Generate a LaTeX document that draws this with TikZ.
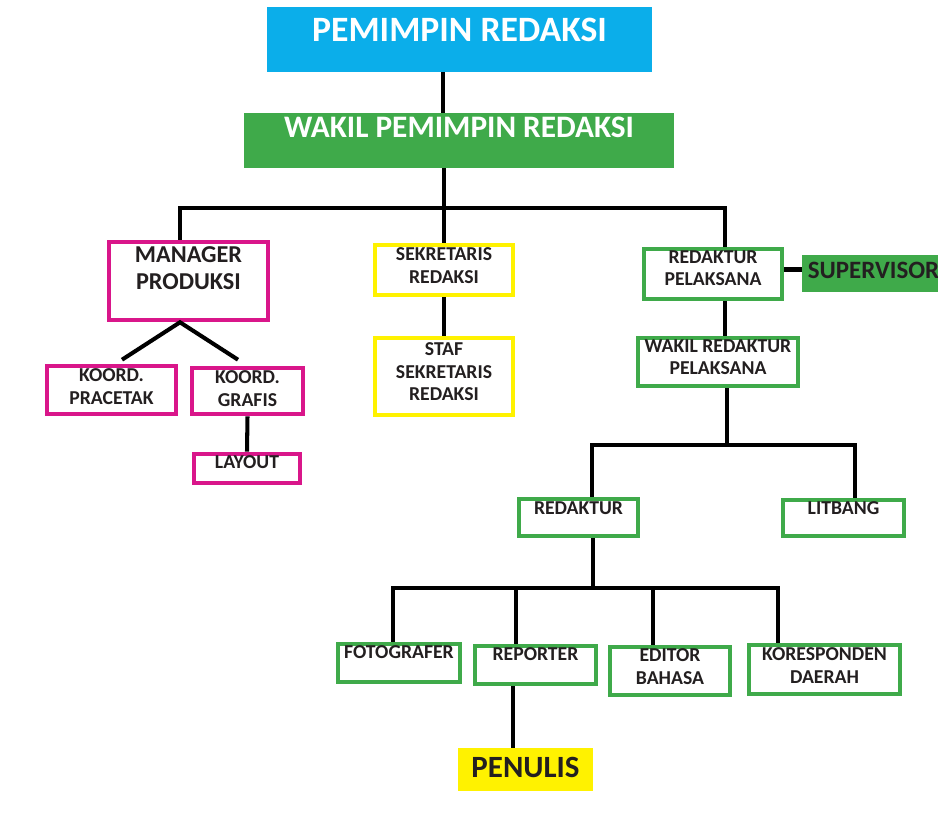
\documentclass[tikz,border=0pt]{standalone}
\usepackage{fontspec}
\setmainfont{Carlito}
\usepackage{tikz}
\usetikzlibrary{calc}
\definecolor{rdcyan}{HTML}{0BAEEA}
\definecolor{rdgreen}{HTML}{3FAA4A}
\definecolor{rdmagenta}{HTML}{D9168A}
\definecolor{rdyellow}{HTML}{FFF200}
\definecolor{rdink}{HTML}{231F20}

\begin{document}
\begin{tikzpicture}[
  tagbox/.style={draw=#1, line width=2.6pt, fill=white, inner sep=0pt},
  bannerbox/.style={fill=#1, inner sep=0pt},
  lbl/.style={anchor=north, inner sep=0pt, align=center, text=rdink, font=\bfseries\fontsize{11.2}{12.6}\selectfont},
  link/.style={draw=black, line width=2.3pt}
]
  \clip (0,0) rectangle (18.76,-16.80);

  % top of the tree
  \node[bannerbox=rdcyan, minimum width=7.70cm, minimum height=1.30cm,
    label={[lbl, text=white, font=\bfseries\fontsize{20.3}{22}\selectfont, yshift=-0.22cm]north:PEMIMPIN REDAKSI}] (pemred) at (9.19,-0.79) {};
  \node[bannerbox=rdgreen, minimum width=8.60cm, minimum height=1.10cm,
    label={[lbl, text=white, font=\bfseries\fontsize{17.8}{20}\selectfont, yshift=-0.08cm]north:WAKIL PEMIMPIN REDAKSI}] (wapem) at (9.18,-2.81) {};

  % produksi
  \node[tagbox=rdmagenta, minimum width=3.18cm, minimum height=1.56cm,
    label={[lbl, font=\bfseries\fontsize{13.8}{15.6}\selectfont, yshift=-0.13cm]north:MANAGER\\PRODUKSI}] (mgr) at (3.77,-5.62) {};
  \node[tagbox=rdmagenta, minimum width=2.58cm, minimum height=0.96cm,
    label={[lbl, yshift=-0.10cm]north:KOORD.\\PRACETAK}] (pracetak) at (2.23,-7.80) {};
  \node[tagbox=rdmagenta, minimum width=2.22cm, minimum height=0.92cm,
    label={[lbl, yshift=-0.10cm]north:KOORD.\\GRAFIS}] (grafis) at (4.95,-7.82) {};
  \node[tagbox=rdmagenta, minimum width=2.12cm, minimum height=0.58cm,
    label={[lbl, yshift=-0.08cm]north:LAYOUT}] (layout) at (4.94,-9.37) {};

  % sekretariat
  \node[tagbox=rdyellow, minimum width=2.76cm, minimum height=1.00cm,
    label={[lbl, yshift=-0.10cm]north:SEKRETARIS\\REDAKSI}] (sekred) at (8.88,-5.40) {};
  \node[tagbox=rdyellow, minimum width=2.76cm, minimum height=1.54cm,
    label={[lbl, yshift=-0.14cm]north:STAF\\SEKRETARIS\\REDAKSI}] (staf) at (8.88,-7.53) {};

  % redaksi
  \node[tagbox=rdgreen, minimum width=2.76cm, minimum height=1.00cm,
    label={[lbl, yshift=-0.08cm]north:REDAKTUR\\PELAKSANA}] (redpel) at (14.26,-5.48) {};
  \node[bannerbox=rdgreen, minimum width=2.86cm, minimum height=0.74cm,
    label={[lbl, font=\bfseries\fontsize{14.2}{16}\selectfont, yshift=-0.15cm]north:SUPERVISOR}] (supervisor) at (17.47,-5.47) {};
  \node[tagbox=rdgreen, minimum width=3.20cm, minimum height=0.96cm,
    label={[lbl, yshift=-0.08cm]north:WAKIL REDAKTUR\\PELAKSANA}] (wredpel) at (14.36,-7.24) {};
  \node[tagbox=rdgreen, minimum width=2.38cm, minimum height=0.74cm,
    label={[lbl, yshift=-0.10cm]north:REDAKTUR}] (redaktur) at (11.57,-10.35) {};
  \node[tagbox=rdgreen, minimum width=2.42cm, minimum height=0.72cm,
    label={[lbl, yshift=-0.08cm]north:LITBANG}] (litbang) at (16.87,-10.36) {};
  \node[tagbox=rdgreen, minimum width=2.44cm, minimum height=0.76cm,
    label={[lbl, yshift=-0.08cm]north:FOTOGRAFER}] (foto) at (7.98,-13.26) {};
  \node[tagbox=rdgreen, minimum width=2.42cm, minimum height=0.76cm,
    label={[lbl, yshift=-0.08cm]north:REPORTER}] (reporter) at (10.71,-13.30) {};
  \node[tagbox=rdgreen, minimum width=2.40cm, minimum height=0.96cm,
    label={[lbl, yshift=-0.08cm]north:EDITOR\\BAHASA}] (editor) at (13.40,-13.42) {};
  \node[tagbox=rdgreen, minimum width=3.02cm, minimum height=0.98cm,
    label={[lbl, yshift=-0.10cm]north:KORESPONDEN\\DAERAH}] (koresp) at (16.49,-13.39) {};
  \node[bannerbox=rdyellow, minimum width=2.70cm, minimum height=0.86cm,
    label={[lbl, font=\bfseries\fontsize{17.6}{20}\selectfont, yshift=-0.18cm]north:PENULIS}] (penulis) at (10.51,-15.39) {};

  % junction points
  \coordinate (trunk) at (8.86,0);
  \coordinate (busA) at (3.60,-4.16);
  \coordinate (busB) at (14.50,-4.16);
  \coordinate (hubC) at (14.54,-8.90);
  \coordinate (busC) at (11.84,-8.90);
  \coordinate (busD) at (17.10,-8.90);
  \coordinate (hubE) at (11.86,-11.76);
  \coordinate (busE) at (7.86,-11.76);
  \coordinate (busF) at (15.56,-11.76);
  \coordinate (dropR) at (10.32,-11.76);
  \coordinate (dropE) at (13.06,-11.76);
  \coordinate (dropP) at (10.26,0);

  \draw[link] (pemred.south -| trunk) -- (wapem.north -| trunk);
  \draw[link] (mgr.north -| busA) -- (busA) -- (busB) -- (redpel.north -| busB);
  \draw[link] (wapem.south -| sekred.north) -- (sekred.north);

  \draw[link] ($(pracetak.north)+(0.21,0.08)$) -- (mgr.south -| busA) -- ($(grafis.north)+(-0.19,0.12)$);
  \draw[link] (grafis.south) -- (layout.north);
  \draw[link] (sekred) -- (staf);

  \draw[link] ([yshift=0.09cm]redpel.east) -- ([yshift=0.09cm]redpel.east -| supervisor.west);
  \draw[link] (redpel.south -| busB) -- (wredpel.north -| busB);
  \draw[link] (wredpel.south -| hubC) -- (hubC);
  \draw[link] (redaktur.north -| busC) -- (busC) -- (busD) -- (litbang.north -| busD);

  \draw[link] (redaktur.south -| hubE) -- (hubE);
  \draw[link] (foto.north -| busE) -- (busE) -- (busF) -- (koresp.north -| busF);
  \draw[link] (dropR) -- (reporter.north -| dropR);
  \draw[link] (dropE) -- (editor.north -| dropE);
  \draw[link] (reporter.south -| dropP) -- (penulis.north -| dropP);
\end{tikzpicture}
\end{document}
